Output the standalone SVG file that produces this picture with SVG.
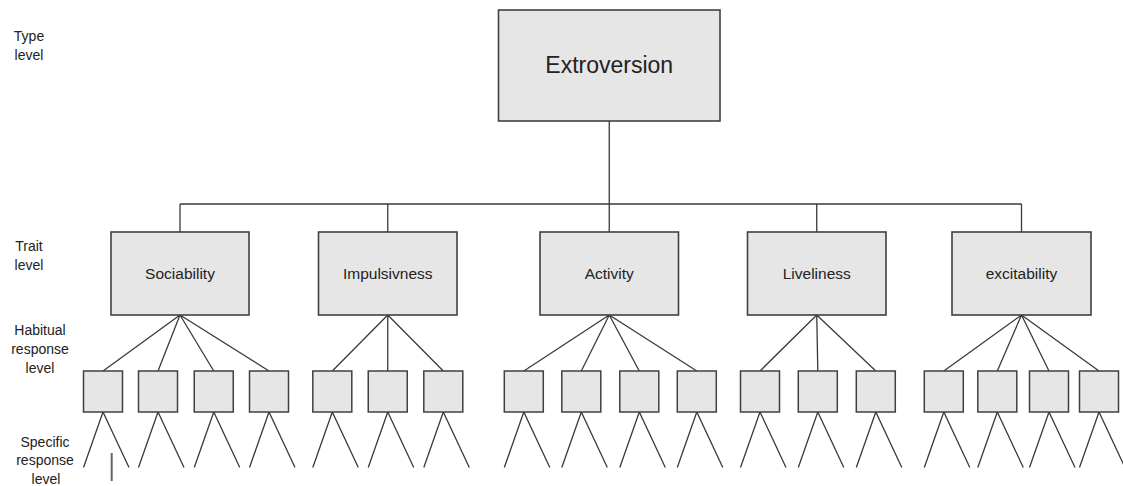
<svg xmlns="http://www.w3.org/2000/svg" width="1123" height="486" viewBox="0 0 1123 486">
<defs>
<style>
.box{fill:#e6e6e6;stroke:#404040;stroke-width:1.6}
.hab{fill:#e6e6e6;stroke:#404040;stroke-width:1.5}
.ln{stroke:#3a3a3a;stroke-width:1.3;fill:none}
.lbl{font-family:"Liberation Sans",Arial,sans-serif;font-size:14px;fill:#222;text-anchor:middle}
.trait{font-family:"Liberation Sans",Arial,sans-serif;font-size:15.5px;fill:#222;text-anchor:middle}
.top{font-family:"Liberation Sans",Arial,sans-serif;font-size:23px;fill:#222;text-anchor:middle}
</style>
</defs>
<rect width="1123" height="486" fill="#ffffff"/>

<g id="level-labels">
<text class="lbl" x="29" y="41">Type</text>
<text class="lbl" x="29" y="60">level</text>
<text class="lbl" x="29" y="251">Trait</text>
<text class="lbl" x="29" y="270">level</text>
<text class="lbl" x="40" y="335">Habitual</text>
<text class="lbl" x="40" y="354">response</text>
<text class="lbl" x="40" y="373">level</text>
<text class="lbl" x="45" y="447">Specific</text>
<text class="lbl" x="45" y="465">response</text>
<text class="lbl" x="46" y="484">level</text>
</g>

<g id="connectors">
<path class="ln" d="M609.25,121 V232 M180,204 H1021.5 M180,204 V232 M387.75,204 V232 M816.75,204 V232 M1021.5,204 V232"/>
<!-- trait to habitual -->
<path class="ln" d="M180,315 L103,371 M180,315 L158,371 M180,315 L213.75,371 M180,315 L269,371"/>
<path class="ln" d="M387.75,315 L332.3,371 M387.75,315 L387.75,371 M387.75,315 L443.3,371"/>
<path class="ln" d="M609.25,315 L523.8,371 M609.25,315 L581.3,371 M609.25,315 L639.3,371 M609.25,315 L696.8,371"/>
<path class="ln" d="M816.75,315 L760,371 M816.75,315 L817.8,371 M816.75,315 L875.8,371"/>
<path class="ln" d="M1021.5,315 L943.8,371 M1021.5,315 L997.3,371 M1021.5,315 L1049,371 M1021.5,315 L1099,371"/>
<!-- specific responses -->
<path class="ln" d="M83.5,467.5 L103,412 L129,467.5 M138.5,467.5 L158,412 L184,467.5 M194.25,467.5 L213.75,412 L239.75,467.5 M249.5,467.5 L269,412 L295,467.5"/>
<path class="ln" d="M312.8,467.5 L332.3,412 L358.3,467.5 M368.25,467.5 L387.75,412 L413.75,467.5 M423.8,467.5 L443.3,412 L469.3,467.5"/>
<path class="ln" d="M504.3,467.5 L523.8,412 L549.8,467.5 M561.8,467.5 L581.3,412 L607.3,467.5 M619.8,467.5 L639.3,412 L665.3,467.5 M677.3,467.5 L696.8,412 L722.8,467.5"/>
<path class="ln" d="M740.5,467.5 L760,412 L786,467.5 M798.3,467.5 L817.8,412 L843.8,467.5 M856.3,467.5 L875.8,412 L901.8,467.5"/>
<path class="ln" d="M924.3,467.5 L943.8,412 L969.8,467.5 M977.8,467.5 L997.3,412 L1023.3,467.5 M1029.5,467.5 L1049,412 L1075,467.5 M1079.5,467.5 L1099,412 L1125,467.5"/>
<path d="M111.7,453 V481" stroke="#666" stroke-width="2" fill="none"/>
</g>

<g id="extroversion">
<rect class="box" x="498.5" y="10" width="221.5" height="111"/>
<text class="top" x="609.25" y="73">Extroversion</text>
</g>

<g id="sociability">
<rect class="box" x="111" y="232" width="138" height="83"/>
<text class="trait" x="180" y="279">Sociability</text>
</g>
<g id="impulsivness">
<rect class="box" x="318.5" y="232" width="138.5" height="83"/>
<text class="trait" x="387.75" y="279">Impulsivness</text>
</g>
<g id="activity">
<rect class="box" x="540" y="232" width="138.5" height="83"/>
<text class="trait" x="609.25" y="279">Activity</text>
</g>
<g id="liveliness">
<rect class="box" x="747.5" y="232" width="138.5" height="83"/>
<text class="trait" x="816.75" y="279">Liveliness</text>
</g>
<g id="excitability">
<rect class="box" x="952" y="232" width="139" height="83"/>
<text class="trait" x="1021.5" y="279">excitability</text>
</g>

<g id="habitual-sociability">
<rect class="hab" x="83.5" y="371" width="39" height="41"/>
<rect class="hab" x="138.5" y="371" width="39" height="41"/>
<rect class="hab" x="194.25" y="371" width="39" height="41"/>
<rect class="hab" x="249.5" y="371" width="39" height="41"/>
</g>
<g id="habitual-impulsivness">
<rect class="hab" x="312.8" y="371" width="39" height="41"/>
<rect class="hab" x="368.25" y="371" width="39" height="41"/>
<rect class="hab" x="423.8" y="371" width="39" height="41"/>
</g>
<g id="habitual-activity">
<rect class="hab" x="504.3" y="371" width="39" height="41"/>
<rect class="hab" x="561.8" y="371" width="39" height="41"/>
<rect class="hab" x="619.8" y="371" width="39" height="41"/>
<rect class="hab" x="677.3" y="371" width="39" height="41"/>
</g>
<g id="habitual-liveliness">
<rect class="hab" x="740.5" y="371" width="39" height="41"/>
<rect class="hab" x="798.3" y="371" width="39" height="41"/>
<rect class="hab" x="856.3" y="371" width="39" height="41"/>
</g>
<g id="habitual-excitability">
<rect class="hab" x="924.3" y="371" width="39" height="41"/>
<rect class="hab" x="977.8" y="371" width="39" height="41"/>
<rect class="hab" x="1029.5" y="371" width="39" height="41"/>
<rect class="hab" x="1079.5" y="371" width="39" height="41"/>
</g>
</svg>
